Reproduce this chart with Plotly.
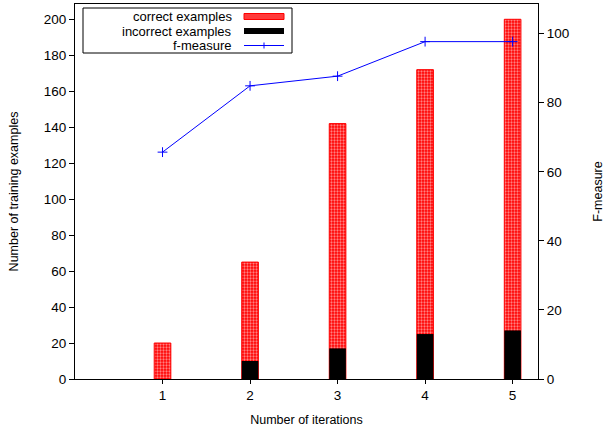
import plotly.graph_objects as go

iterations = [1, 2, 3, 4, 5]
correct_examples = [20, 65, 142, 172, 200]
incorrect_examples = [0, 10, 17, 25, 27]
f_measure = [65.7, 84.9, 87.7, 97.7, 97.7]

left_ticks = [0, 20, 40, 60, 80, 100, 120, 140, 160, 180, 200]
right_ticks = [0, 20, 40, 60, 80, 100]
legend_labels = ["correct examples", "incorrect examples", "f-measure"]

family = "Liberation Sans, Arial, Helvetica, sans-serif"
tick_font = dict(family=family, size=13.5, color="black")
title_font = dict(family=family, size=12.5, color="black")

W, H = 608, 431
ML, MR, MT, MB = 75, 70, 4, 52
PW, PH = W - ML - MR, H - MT - MB


def px(x):
    return (x - ML) / PW


def py(y):
    return (H - MB - y) / PH


fig = go.Figure()
fig.add_trace(go.Bar(
    x=iterations, y=correct_examples, name=legend_labels[0], width=0.19,
    marker=dict(color="red", line=dict(color="red", width=1),
                pattern=dict(shape=".", fgcolor="white", bgcolor="red", size=3, solidity=0.45)),
))
fig.add_trace(go.Bar(
    x=iterations, y=incorrect_examples, name=legend_labels[1], width=0.19,
    marker=dict(color="black", line=dict(color="black", width=0)),
))
fig.add_trace(go.Scatter(
    x=iterations, y=f_measure, name=legend_labels[2], yaxis="y2",
    mode="lines+markers",
    line=dict(color="blue", width=1),
    marker=dict(symbol="cross-thin", size=7, line=dict(color="blue", width=1), color="blue"),
))

# custom legend (text right-aligned, key on the right, as in the reference)
row_y = [16.5, 31, 45.5]
shapes = [
    dict(type="rect", xref="paper", yref="paper", x0=px(83), x1=px(292), y0=py(53), y1=py(8),
         line=dict(color="black", width=1), fillcolor="white", layer="above"),
    dict(type="rect", xref="paper", yref="paper", x0=px(244), x1=px(284), y0=py(row_y[0] + 3), y1=py(row_y[0] - 3),
         line=dict(color="red", width=1), fillcolor="#ff3b3b", layer="above"),
    dict(type="rect", xref="paper", yref="paper", x0=px(244), x1=px(284), y0=py(row_y[1] + 3), y1=py(row_y[1] - 3),
         line=dict(color="black", width=0), fillcolor="black", layer="above"),
    dict(type="line", xref="paper", yref="paper", x0=px(244), x1=px(284), y0=py(row_y[2]), y1=py(row_y[2]),
         line=dict(color="blue", width=1), layer="above"),
    dict(type="line", xref="paper", yref="paper", x0=px(264), x1=px(264), y0=py(row_y[2] - 3), y1=py(row_y[2] + 3),
         line=dict(color="blue", width=1), layer="above"),
]
annotations = []
for lab, yy in zip(legend_labels, row_y):
    annotations.append(dict(text=lab, xref="paper", yref="paper", x=px(233), y=py(yy + 0.5),
                            xanchor="right", yanchor="middle", showarrow=False, borderpad=0,
                            font=dict(family=family, size=13, color="black")))

fig.update_layout(
    width=W, height=H,
    margin=dict(l=ML, r=MR, t=MT, b=MB, autoexpand=False),
    paper_bgcolor="white", plot_bgcolor="white",
    font=tick_font,
    barmode="overlay",
    showlegend=False,
    shapes=shapes,
    annotations=annotations,
    xaxis=dict(range=[0, 5.29], tickvals=iterations, ticktext=[str(i) for i in iterations],
               showline=True, linecolor="black", linewidth=1, mirror=True, automargin=False,
               ticks="outside", ticklen=4, tickcolor="black", showgrid=False, zeroline=False,
               tickfont=tick_font,
               title=dict(text="Number of iterations", standoff=13, font=title_font)),
    yaxis=dict(range=[0, 208.5], tickvals=left_ticks, automargin=False,
               showline=True, linecolor="black", linewidth=1,
               ticks="outside", ticklen=5, tickcolor="black", showgrid=False, zeroline=False,
               tickfont=tick_font,
               title=dict(text="Number of training examples", standoff=22, font=title_font)),
    yaxis2=dict(range=[0, 108.6], tickvals=right_ticks, overlaying="y", side="right",
                showline=True, linecolor="black", linewidth=1, automargin=False,
                ticks="outside", ticklen=5, tickcolor="black", showgrid=False, zeroline=False,
                tickfont=tick_font,
                title=dict(text="F-measure", standoff=25, font=title_font)),
)

fig.write_html("out.html", config={"displayModeBar": False},
               post_script="document.body.style.margin='0px';")
